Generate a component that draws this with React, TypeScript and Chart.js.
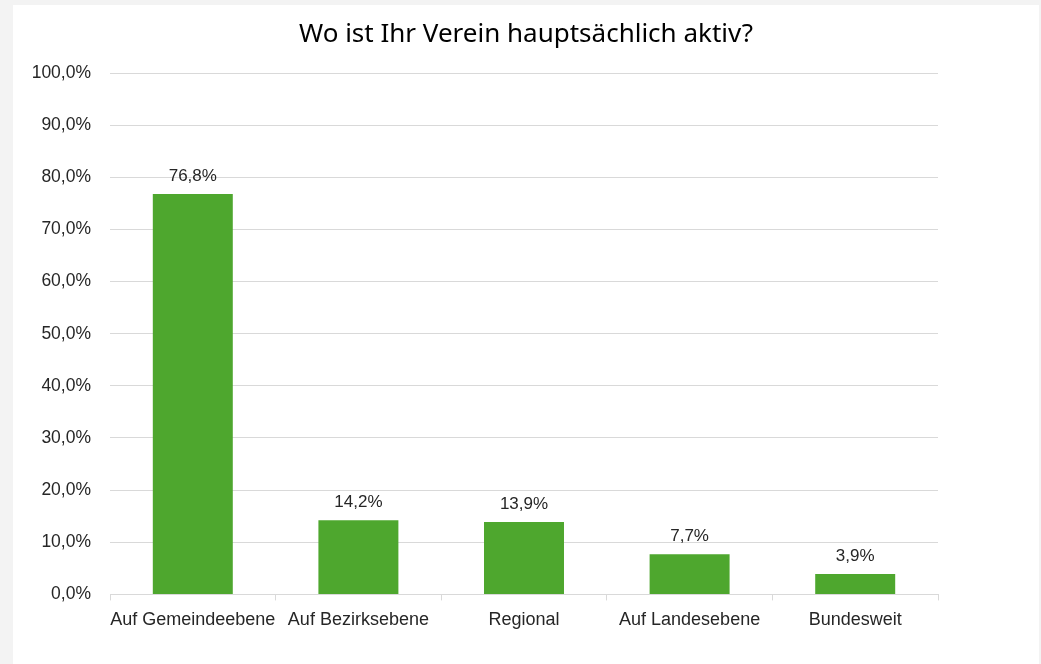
import React, { useEffect, useRef } from "react";
import { Chart, registerables } from "chart.js";

Chart.register(...registerables);

const TITLE = "Wo ist Ihr Verein hauptsächlich aktiv?";
const categories = ["Auf Gemeindeebene", "Auf Bezirksebene", "Regional", "Auf Landesebene", "Bundesweit"];
const values = [76.8, 14.2, 13.9, 7.7, 3.9];
const yTicks = [0, 10, 20, 30, 40, 50, 60, 70, 80, 90, 100];

const fmt = (v: number) => v.toFixed(1).replace(".", ",") + "%";

const labelPlugin = {
  id: "valueLabels",
  afterDatasetsDraw(chart: any) {
    const ctx = chart.ctx;
    const meta = chart.getDatasetMeta(0);
    ctx.save();
    ctx.font = "17px 'Liberation Sans', Arial, sans-serif";
    ctx.fillStyle = "#262626";
    ctx.textAlign = "center";
    ctx.textBaseline = "alphabetic";
    meta.data.forEach((bar: any, i: number) => {
      ctx.fillText(fmt(values[i]), bar.x, bar.y - 13);
    });
    ctx.restore();
  },
};

const titlePlugin = {
  id: "customTitle",
  afterDraw(chart: any) {
    const ctx = chart.ctx;
    ctx.save();
    ctx.font = "26px 'Noto Sans', sans-serif";
    ctx.fillStyle = "#000000";
    ctx.textAlign = "center";
    ctx.textBaseline = "alphabetic";
    ctx.fillText(TITLE, 513, 37);
    ctx.restore();
  },
};

export default function App() {
  const ref = useRef<HTMLCanvasElement | null>(null);
  useEffect(() => {
    if (!ref.current) return;
    const chart = new Chart(ref.current, {
      type: "bar",
      data: {
        labels: categories,
        datasets: [
          {
            data: values,
            backgroundColor: "#4EA72E",
            borderWidth: 0,
            categoryPercentage: 0.483,
            barPercentage: 1,
          },
        ],
      },
      options: {
        animation: false,
        responsive: false,
        maintainAspectRatio: false,
        layout: { padding: { left: 0, right: 101, top: 68, bottom: 24 } },
        plugins: {
          legend: { display: false },
          tooltip: { enabled: false },
          title: { display: false },
        },
        scales: {
          x: {
            grid: {
              display: true,
              drawOnChartArea: false,
              drawTicks: true,
              tickLength: 6,
              color: "#d9d9d9",
              offset: true,
            },
            border: { display: true, color: "#d9d9d9", width: 1 },
            ticks: {
              color: "#262626",
              font: { family: "'Liberation Sans', Arial, sans-serif", size: 18 },
              padding: 9,
              maxRotation: 0,
              autoSkip: false,
            },
          },
          y: {
            min: 0,
            max: 100,
            afterFit: (scale: any) => {
              scale.width = 97;
            },
            afterBuildTicks: (scale: any) => {
              scale.ticks = yTicks.map((v) => ({ value: v }));
            },
            grid: { color: "#d9d9d9", drawTicks: false, lineWidth: 1 },
            border: { display: false },
            ticks: {
              color: "#262626",
              font: { family: "'Liberation Sans', Arial, sans-serif", size: 17.5 },
              padding: 19,
              callback: (v: any) => fmt(Number(v)),
            },
          },
        },
      },
      plugins: [labelPlugin, titlePlugin],
    });
    return () => chart.destroy();
  }, []);

  return (
    <div
      style={{
        position: "absolute",
        left: 0,
        top: 0,
        width: 1041,
        height: 664,
        background: "#f3f3f3",
        overflow: "hidden",
      }}
    >
      <div
        style={{
          position: "absolute",
          left: 13,
          top: 5,
          width: 1026,
          height: 659,
          background: "#ffffff",
        }}
      >
        <canvas ref={ref} width={1026} height={659} style={{ display: "block" }} />
      </div>
    </div>
  );
}
